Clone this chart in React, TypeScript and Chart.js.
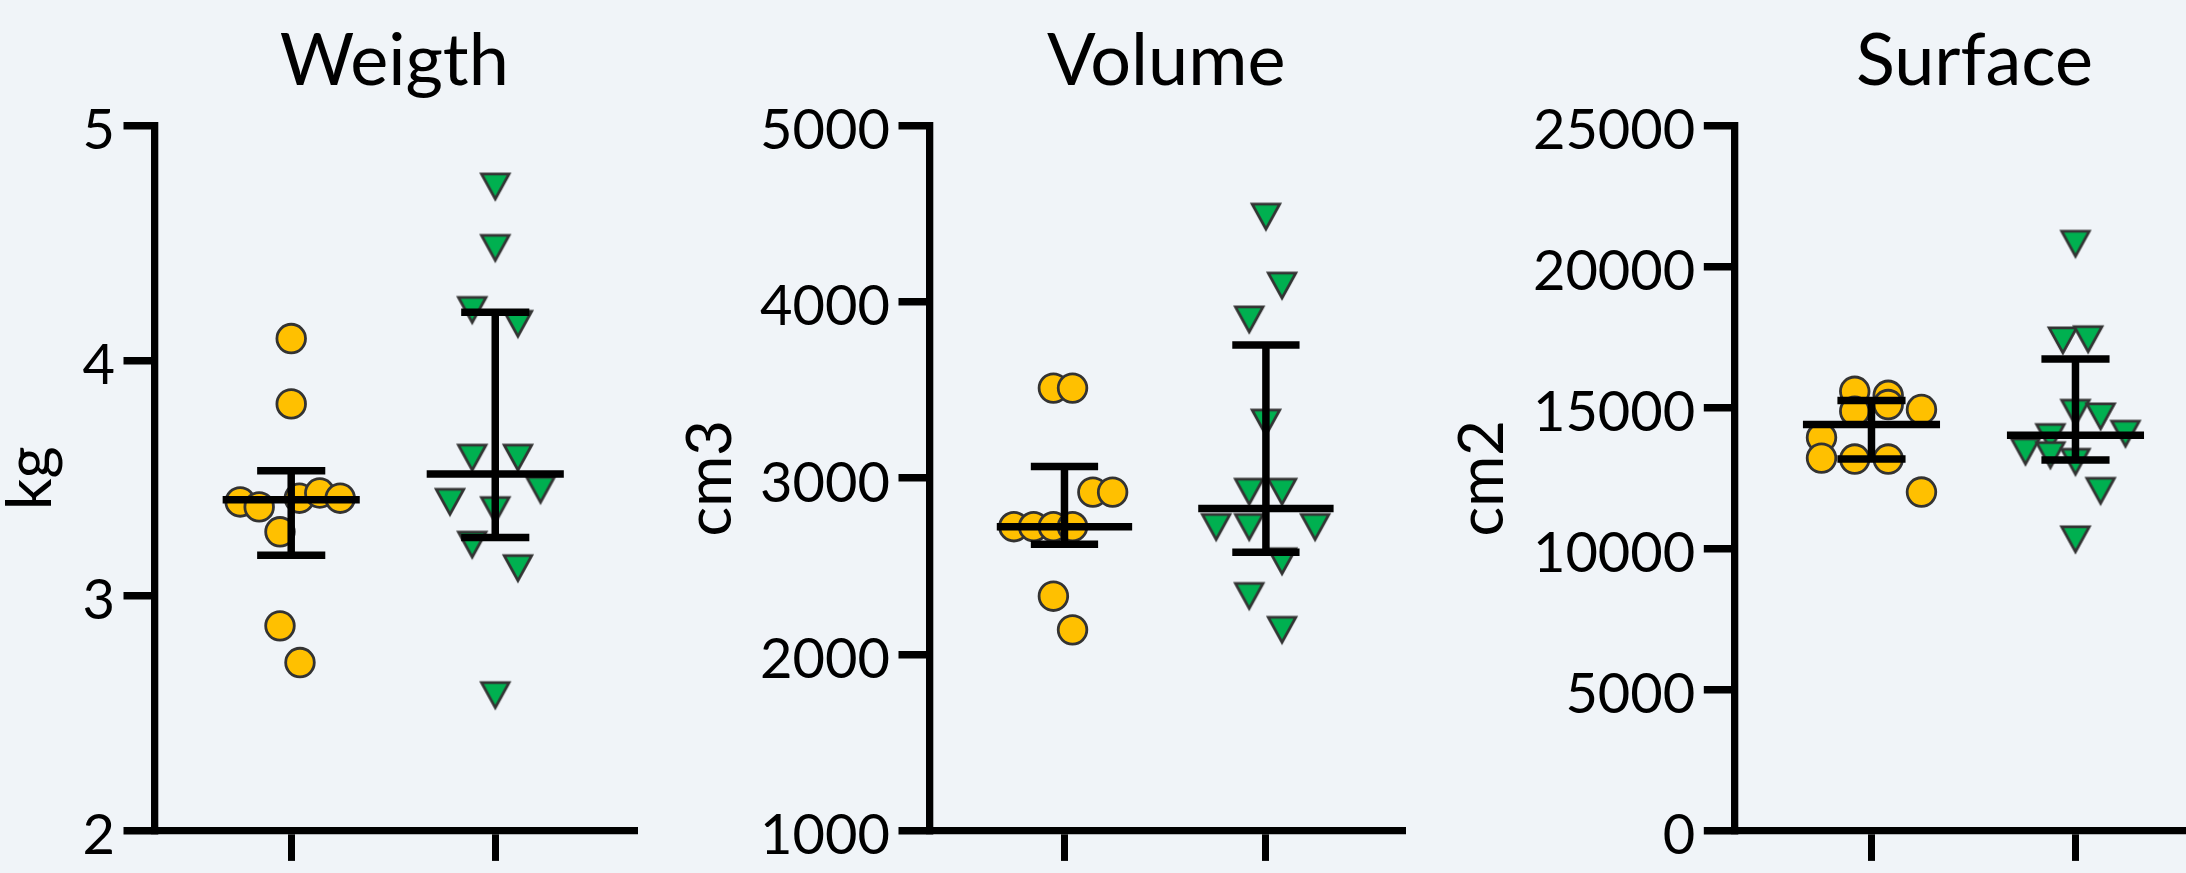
import React, { useEffect, useRef } from "react";
import { Chart, registerables } from "chart.js";

Chart.register(...registerables);

// ---------- data ----------
const categories = [1, 2];

// Weigth (kg)
const weightTicks = [2, 3, 4, 5];
const weightYellowOffsets = [0, 0, -0.25, -0.157, 0.04, 0.14, 0.24, -0.055, -0.055, 0.043];
const weightYellowValues = [4.094, 3.816, 3.399, 3.378, 3.415, 3.437, 3.415, 3.272, 2.872, 2.716];
const weightGreenOffsets = [0, 0, -0.113, 0.111, -0.113, 0.111, 0.222, -0.222, 0, -0.113, 0.111, 0];
const weightGreenValues = [4.738, 4.477, 4.213, 4.154, 3.585, 3.585, 3.448, 3.397, 3.362, 3.215, 3.115, 2.575];
const weightMedians = [3.408, 3.518];
const weightQ1 = [3.172, 3.248];
const weightQ3 = [3.532, 4.206];

// Volume (cm3)
const volumeTicks = [1000, 2000, 3000, 4000, 5000];
const volumeYellowOffsets = [-0.055, 0.04, 0.141, 0.239, -0.251, -0.153, -0.055, 0.04, -0.055, 0.04];
const volumeYellowValues = [3511, 3511, 2921, 2921, 2725, 2725, 2725, 2725, 2331, 2140];
const volumeGreenOffsets = [0, 0.08, -0.083, 0, -0.083, 0.08, -0.247, -0.083, 0.244, 0.08, -0.083, 0.08];
const volumeGreenValues = [4480, 4089, 3897, 3312, 2920, 2920, 2720, 2720, 2720, 2526, 2329, 2137];
const volumeMedians = [2725, 2828];
const volumeQ1 = [2625, 2580];
const volumeQ3 = [3067, 3755];

// Surface (cm2)
const surfaceTicks = [0, 5000, 10000, 15000, 20000, 25000];
const surfaceYellowOffsets = [-0.082, 0.082, 0.082, -0.082, 0.245, -0.245, -0.245, -0.082, 0.082, 0.245];
const surfaceYellowValues = [15579, 15438, 15110, 14877, 14934, 13940, 13213, 13178, 13178, 12009];
const surfaceGreenOffsets = [0, -0.062, 0.062, 0, 0.123, 0.245, -0.123, -0.245, -0.123, 0, 0.123, 0];
const surfaceGreenValues = [20787, 17363, 17405, 14800, 14671, 14057, 13940, 13424, 13297, 13062, 12033, 10312];
const surfaceMedians = [14407, 14021];
const surfaceQ1 = [13178, 13143];
const surfaceQ3 = [15250, 16724];

const titles = ["Weigth", "Volume", "Surface"];
const yLabels = ["kg", "cm3", "cm2"];

// ---------- styling / layout ----------
const BG = "#F0F4F8";
const YELLOW = "#FFC000";
const GREEN = "#00B050";
const EDGE = "#333333";
const FONT = "Lato";
const X_MIN = 0.33;
const X_MAX = 2.68;
const MEDIAN_HALF = 0.336;
const CAP_HALF = 0.167;

const layouts = [
  { left: 0, width: 680, yWidth: 154.5, padRight: 46, yTitlePad: 6.5 },
  { left: 680, width: 740, yWidth: 249.5, padRight: 11, yTitlePad: 6.5 },
  { left: 1420, width: 820, yWidth: 314.8, padRight: 25.8, yTitlePad: 38 },
];

const panels = [
  {
    title: titles[0], yLabel: yLabels[0], ticks: weightTicks,
    yOff: weightYellowOffsets, yVal: weightYellowValues,
    gOff: weightGreenOffsets, gVal: weightGreenValues,
    med: weightMedians, q1: weightQ1, q3: weightQ3,
  },
  {
    title: titles[1], yLabel: yLabels[1], ticks: volumeTicks,
    yOff: volumeYellowOffsets, yVal: volumeYellowValues,
    gOff: volumeGreenOffsets, gVal: volumeGreenValues,
    med: volumeMedians, q1: volumeQ1, q3: volumeQ3,
  },
  {
    title: titles[2], yLabel: yLabels[2], ticks: surfaceTicks,
    yOff: surfaceYellowOffsets, yVal: surfaceYellowValues,
    gOff: surfaceGreenOffsets, gVal: surfaceGreenValues,
    med: surfaceMedians, q1: surfaceQ1, q3: surfaceQ3,
  },
];

function makeTriangle(): HTMLCanvasElement {
  const c = document.createElement("canvas");
  c.width = 40;
  c.height = 40;
  const ctx = c.getContext("2d")!;
  const halfW = 13.75;
  const h = 25;
  const top = 6.8;
  ctx.beginPath();
  ctx.moveTo(20 - halfW, top);
  ctx.lineTo(20 + halfW, top);
  ctx.lineTo(20, top + h);
  ctx.closePath();
  ctx.fillStyle = GREEN;
  ctx.fill();
  ctx.lineWidth = 2.8;
  ctx.lineJoin = "miter";
  ctx.strokeStyle = EDGE;
  ctx.stroke();
  return c;
}

function lineSet(points: { x: number; y: number }[]) {
  return {
    type: "scatter" as const,
    data: points,
    showLine: true,
    borderColor: "#000",
    borderWidth: 7.5,
    borderCapStyle: "butt" as const,
    pointRadius: 0,
    pointHoverRadius: 0,
    fill: false,
    tension: 0,
    order: 0,
  };
}

function Panel({ idx }: { idx: number }) {
  const ref = useRef<HTMLCanvasElement | null>(null);
  const p = panels[idx];
  const L = layouts[idx];

  useEffect(() => {
    if (!ref.current) return;
    const tri = makeTriangle();
    const datasets: any[] = [];
    datasets.push({
      type: "scatter",
      data: p.yVal.map((v, i) => ({ x: categories[0] + p.yOff[i], y: v })),
      pointStyle: "circle",
      pointRadius: 14.3,
      pointHoverRadius: 14.3,
      backgroundColor: YELLOW,
      borderColor: EDGE,
      borderWidth: 2.8,
      order: 2,
    });
    datasets.push({
      type: "scatter",
      data: p.gVal.map((v, i) => ({ x: categories[1] + p.gOff[i], y: v })),
      pointStyle: tri,
      pointRadius: 15,
      pointHoverRadius: 15,
      backgroundColor: GREEN,
      borderColor: EDGE,
      order: 1,
    });
    categories.forEach((c, k) => {
      datasets.push(lineSet([{ x: c - MEDIAN_HALF, y: p.med[k] }, { x: c + MEDIAN_HALF, y: p.med[k] }]));
      datasets.push(lineSet([{ x: c, y: p.q1[k] }, { x: c, y: p.q3[k] }]));
      datasets.push(lineSet([{ x: c - CAP_HALF, y: p.q1[k] }, { x: c + CAP_HALF, y: p.q1[k] }]));
      datasets.push(lineSet([{ x: c - CAP_HALF, y: p.q3[k] }, { x: c + CAP_HALF, y: p.q3[k] }]));
    });

    const chart = new Chart(ref.current, {
      type: "scatter",
      data: { datasets },
      options: {
        animation: false,
        responsive: false,
        devicePixelRatio: 1,
        events: [],
        layout: { padding: { left: 0, right: L.padRight, top: 0, bottom: 0 } },
        plugins: {
          legend: { display: false },
          tooltip: { enabled: false },
          title: {
            display: true,
            text: p.title,
            color: "#000",
            fullSize: false,
            font: { family: FONT, size: 72, weight: "normal", lineHeight: 1.2 },
            padding: { top: 18.6, bottom: 20.5 },
          },
        },
        scales: {
          x: {
            type: "linear",
            min: X_MIN,
            max: X_MAX,
            afterBuildTicks: (s: any) => {
              s.ticks = categories.map((v) => ({ value: v }));
            },
            afterFit: (s: any) => {
              s.height = 35;
            },
            ticks: { display: false },
            grid: {
              display: true,
              drawOnChartArea: false,
              drawTicks: true,
              tickLength: 30,
              lineWidth: 7,
              color: "#000",
            },
            border: { display: true, width: 7.3, color: "#000" },
          },
          y: {
            type: "linear",
            min: p.ticks[0],
            max: p.ticks[p.ticks.length - 1],
            afterBuildTicks: (s: any) => {
              s.ticks = p.ticks.map((v) => ({ value: v }));
            },
            afterFit: (s: any) => {
              s.width = L.yWidth;
            },
            ticks: {
              color: "#000",
              padding: 8.5,
              labelOffset: 5.5,
              font: { family: FONT, size: 56 },
              callback: (v: any) => String(v),
            },
            grid: {
              display: true,
              drawOnChartArea: false,
              drawTicks: true,
              tickLength: 31,
              lineWidth: 7.5,
              color: "#000",
            },
            border: { display: true, width: 7.3, color: "#000" },
            title: {
              display: true,
              text: p.yLabel,
              color: "#000",
              font: { family: FONT, size: 62, lineHeight: 0.8 },
              padding: { top: L.yTitlePad, bottom: 0 },
            },
          },
        },
      },
    });
    return () => chart.destroy();
  }, []);

  return (
    <canvas
      ref={ref}
      width={L.width}
      height={873}
      style={{ position: "absolute", left: L.left, top: 0, width: L.width, height: 873 }}
    />
  );
}

export default function App() {
  return (
    <div
      style={{
        position: "fixed",
        left: 0,
        top: 0,
        width: 2186,
        height: 873,
        overflow: "hidden",
        background: BG,
      }}
    >
      {panels.map((_, i) => (
        <Panel key={i} idx={i} />
      ))}
    </div>
  );
}
